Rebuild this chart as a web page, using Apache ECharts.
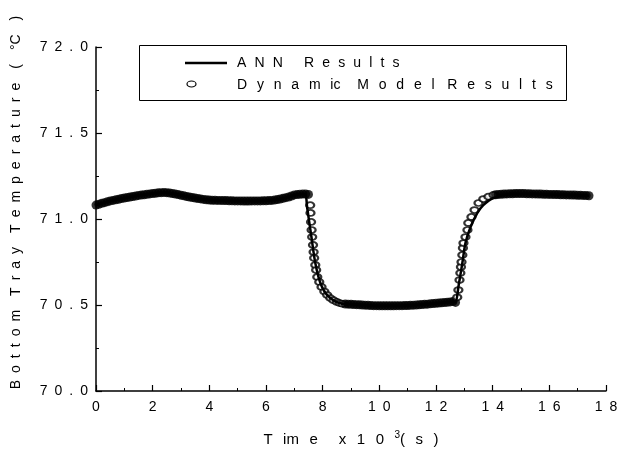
<!DOCTYPE html>
<html>
<head>
<meta charset="utf-8">
<script src="https://cdn.jsdelivr.net/npm/echarts@6/dist/echarts.min.js"></script>
<style>html,body{margin:0;padding:0;background:#fff}#c{width:622px;height:456px}</style>
</head>
<body>
<div id="c"></div>
<script>
// Axis ticks
const xTicks = [0, 2, 4, 6, 8, 10, 12, 14, 16, 18];
const yTicks = [70.0, 70.5, 71.0, 71.5, 72.0];

// Series names (shown letter-spaced as in the original figure)
const seriesNames = ['ANN Results', 'Dynamic Model Results'];

// ANN results [time x10^3 s, temperature °C]
const annResults = [
  [0,71.081],[0.5,71.105],[1,71.122],[1.5,71.137],[2,71.148],[2.4,71.154],[2.8,71.145],
  [3.2,71.131],[3.6,71.119],[4,71.11],[5,71.105],[6,71.106],[6.5,71.116],[6.8,71.128],
  [7,71.14],[7.3,71.145],[7.4,71.14],[7.45,71.07],[7.6,70.9],[7.74,70.744],[7.92,70.628],
  [8.16,70.558],[8.62,70.51],[9.2,70.503],[9.8,70.496],[10.4,70.495],[11,70.497],
  [11.6,70.504],[12.2,70.513],[12.6,70.52],[12.69,70.515],[12.79,70.605],[12.93,70.744],
  [13.04,70.86],[13.22,70.953],[13.46,71.035],[13.67,71.081],[14.03,71.122],[14.63,71.145],
  [15.2,71.147],[16,71.143],[17,71.138],[17.4,71.135]
];

// Dynamic model results [time x10^3 s, temperature °C]
const modelBefore = [
  [0.0,71.081],[0.1,71.086],[0.2,71.091],[0.3,71.095],[0.4,71.100],[0.5,71.105],[0.6,71.108],
  [0.7,71.112],[0.8,71.115],[0.9,71.119],[1.0,71.122],[1.1,71.125],[1.2,71.128],[1.3,71.131],
  [1.4,71.134],[1.5,71.137],[1.6,71.139],[1.7,71.141],[1.8,71.144],[1.9,71.146],[2.0,71.148],
  [2.1,71.150],[2.2,71.152],[2.3,71.153],[2.4,71.154],[2.5,71.153],[2.6,71.151],[2.7,71.148],
  [2.8,71.145],[2.9,71.142],[3.0,71.138],[3.1,71.135],[3.2,71.131],[3.3,71.128],[3.4,71.125],
  [3.5,71.122],[3.6,71.119],[3.7,71.117],[3.8,71.114],[3.9,71.112],[4.0,71.110],[4.1,71.109],
  [4.2,71.109],[4.3,71.108],[4.4,71.108],[4.5,71.107],[4.6,71.107],[4.7,71.106],[4.8,71.106],
  [4.9,71.105],[5.0,71.105],[5.1,71.105],[5.2,71.104],[5.3,71.104],[5.4,71.104],[5.5,71.105],
  [5.6,71.105],[5.7,71.105],[5.8,71.105],[5.9,71.106],[6.0,71.106],[6.1,71.107],[6.2,71.108],
  [6.3,71.110],[6.4,71.113],[6.5,71.116],[6.6,71.120],[6.7,71.124],[6.8,71.128],[6.9,71.134],
  [7.0,71.140],[7.1,71.142],[7.2,71.144],[7.3,71.145],[7.4,71.145],[7.5,71.143]
];
const modelDrop = [
  [7.56,71.08],[7.57,71.035],[7.59,70.983],[7.61,70.936],[7.63,70.895],[7.66,70.849],
  [7.68,70.808],[7.70,70.773],[7.74,70.733],[7.77,70.703],[7.81,70.663],[7.88,70.634],
  [7.96,70.605],[8.06,70.578],[8.16,70.558],[8.27,70.540],[8.38,70.528],[8.5,70.518],
  [8.6,70.511],[8.7,70.507]
];
const modelLow = [
  [8.8,70.506],[8.9,70.505],[9.0,70.504],[9.1,70.503],[9.2,70.502],[9.3,70.501],[9.4,70.500],
  [9.5,70.499],[9.6,70.498],[9.7,70.497],[9.8,70.496],[9.9,70.496],[10.0,70.495],[10.1,70.495],
  [10.2,70.495],[10.3,70.495],[10.4,70.495],[10.5,70.495],[10.6,70.496],[10.7,70.496],
  [10.8,70.496],[10.9,70.497],[11.0,70.497],[11.1,70.498],[11.2,70.499],[11.3,70.500],
  [11.4,70.501],[11.5,70.503],[11.6,70.504],[11.7,70.505],[11.8,70.507],[11.9,70.508],
  [12.0,70.510],[12.1,70.511],[12.2,70.513],[12.3,70.514],[12.4,70.516],[12.5,70.518],
  [12.6,70.520],[12.69,70.515]
];
const modelRise = [
  [12.75,70.545],[12.79,70.587],[12.83,70.645],[12.86,70.686],[12.88,70.721],[12.90,70.75],
  [12.93,70.791],[12.95,70.831],[12.97,70.86],[13.04,70.895],[13.11,70.936],[13.14,70.977],
  [13.25,71.012],[13.36,71.052],[13.5,71.093],[13.67,71.116],[13.85,71.13],[14.03,71.14]
];
const modelAfter = [
  [14.1,71.141],[14.2,71.143],[14.3,71.144],[14.4,71.145],[14.5,71.146],[14.6,71.147],
  [14.7,71.147],[14.8,71.148],[14.9,71.148],[15.0,71.148],[15.1,71.148],[15.2,71.147],
  [15.3,71.147],[15.4,71.146],[15.5,71.146],[15.6,71.145],[15.7,71.145],[15.8,71.144],
  [15.9,71.144],[16.0,71.143],[16.1,71.143],[16.2,71.142],[16.3,71.142],[16.4,71.141],
  [16.5,71.141],[16.6,71.140],[16.7,71.140],[16.8,71.139],[16.9,71.139],[17.0,71.138],
  [17.1,71.138],[17.2,71.137],[17.3,71.136],[17.4,71.135]
];

// styling: densely overlapping rings in steady segments merge into a solid band,
// transient segments show individual thin rings
const steady = arr => arr.map(p => ({value: p, symbol: 'circle', symbolSize: [9, 9]}));
const transient = arr => arr.map(p => ({value: p, symbol: 'emptyCircle', symbolSize: [8, 6]}));
const modelData = [].concat(
  steady(modelBefore), transient(modelDrop), steady(modelLow), transient(modelRise), steady(modelAfter)
);

const FONT = '"Liberation Sans", Arial, sans-serif';
const EN = '\u2002';
const THIN = '\u2009';
// letter-spaced text: gap between letters, wider gap between words
const spread = (s, gap, wordGap) => s.split(' ').map(w => w.split('').join(gap)).join(wordGap);

const annLabel = spread(seriesNames[0], EN + '\u200A', EN + EN + EN);
const LG = EN + THIN;
const modelLabel = spread('Dynam', LG, '') + LG + 'ic' + EN + EN + THIN +
                   spread('Model', LG, '') + LG + THIN + spread('Results', LG, '');
const yTitle = spread('Bottom Tray Temperature ( °C )', EN, EN + EN).replace('°' + EN + 'C', '°C');
const XG = EN + THIN;
const xTitle = 'T' + XG + 'im' + XG + 'e' + XG + XG + 'x' + XG + '1' + XG + '0' + XG + '{sup|3}(' + XG + 's' + XG + ')';

const chart = echarts.init(document.getElementById('c'), null, {renderer: 'canvas'});
chart.setOption({
  animation: false,
  backgroundColor: '#fff',
  grid: {left: 96, right: 16, top: 47, bottom: 65, containLabel: false, outerBoundsMode: 'none'},
  xAxis: {
    type: 'value', min: xTicks[0], max: xTicks[xTicks.length - 1], interval: 2,
    name: xTitle, nameLocation: 'middle', nameGap: 39,
    nameTextStyle: {
      fontFamily: FONT, fontSize: 15, color: '#000', lineHeight: 20,
      rich: {sup: {fontFamily: FONT, fontSize: 10, color: '#000', verticalAlign: 'top', lineHeight: 20}}
    },
    axisLine: {lineStyle: {color: '#000', width: 1.5}},
    axisTick: {inside: true, length: 6, lineStyle: {color: '#000', width: 1.2}},
    minorTick: {show: true, splitNumber: 2, length: 3, lineStyle: {color: '#000', width: 1}},
    splitLine: {show: false},
    axisLabel: {color: '#000', fontFamily: FONT, fontSize: 14, margin: 9, formatter: v => String(v).split('').join(EN)}
  },
  yAxis: {
    type: 'value', min: yTicks[0], max: yTicks[yTicks.length - 1], interval: 0.5,
    name: yTitle,
    nameLocation: 'middle', nameGap: 73, nameRotate: 90,
    nameTextStyle: {fontFamily: FONT, fontSize: 14, color: '#000', padding: [0, 0, 0, 33]},
    axisLine: {lineStyle: {color: '#000', width: 1.5}},
    axisTick: {inside: true, length: 6, lineStyle: {color: '#000', width: 1.2}},
    minorTick: {show: true, splitNumber: 2, length: 3, lineStyle: {color: '#000', width: 1}},
    splitLine: {show: false},
    axisLabel: {color: '#000', fontFamily: FONT, fontSize: 14, margin: 8, formatter: v => v.toFixed(1).split('').join(EN)}
  },
  series: [
    {
      name: seriesNames[1], type: 'scatter', data: modelData,
      symbol: 'emptyCircle', symbolSize: [8, 6], z: 2,
      itemStyle: {color: '#000', borderWidth: 1.1}
    },
    {
      name: seriesNames[0], type: 'line', data: annResults, showSymbol: false, smooth: 0.3,
      lineStyle: {color: '#000', width: 2.5}, z: 3
    }
  ],
  graphic: [
    {type: 'rect', shape: {x: 139.5, y: 45.5, width: 427, height: 55}, style: {fill: '#fff', stroke: '#000', lineWidth: 1}, z: 10},
    {type: 'line', shape: {x1: 185, y1: 63, x2: 227, y2: 63}, style: {stroke: '#000', lineWidth: 2.5}, z: 11},
    {type: 'ellipse', shape: {cx: 191.5, cy: 84, rx: 4.5, ry: 3}, style: {fill: '#fff', stroke: '#000', lineWidth: 1.2}, z: 11},
    {type: 'text', x: 237, y: 63, style: {text: annLabel, font: '14px ' + FONT, fill: '#000', textVerticalAlign: 'middle'}, z: 11},
    {type: 'text', x: 237, y: 85, style: {text: modelLabel, font: '14px ' + FONT, fill: '#000', textVerticalAlign: 'middle'}, z: 11}
  ]
});
</script>
</body>
</html>
